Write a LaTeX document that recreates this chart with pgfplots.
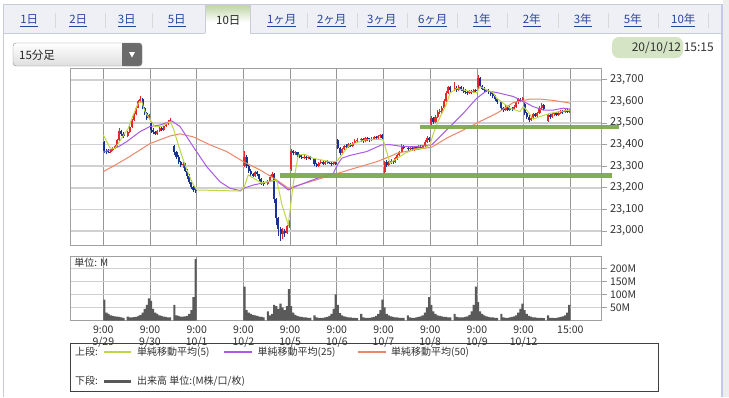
\documentclass[border=0pt]{standalone}
\usepackage{pgfplots}
\pgfplotsset{compat=1.18}
\usepackage{pgfplotstable}
\usepackage{fontspec}
\setmainfont{Noto Sans CJK JP}
\newcommand{\fs}[2]{\fontsize{#1bp}{#2bp}\selectfont}
\definecolor{tabbg}{RGB}{238,240,246}
\definecolor{tabline}{RGB}{200,204,214}
\definecolor{linkblue}{RGB}{40,70,160}
\definecolor{gridv}{RGB}{150,150,150}
\definecolor{gridh}{RGB}{208,208,208}
\definecolor{frame}{RGB}{160,160,160}
\definecolor{upc}{RGB}{230,40,40}
\definecolor{dnc}{RGB}{25,50,150}
\definecolor{ma5}{RGB}{190,215,70}
\definecolor{ma25}{RGB}{170,90,230}
\definecolor{ma50}{RGB}{235,135,105}
\definecolor{hl}{RGB}{125,170,75}
\definecolor{volc}{RGB}{90,90,90}
\definecolor{txt}{RGB}{50,50,50}

\pgfplotstableread{
d k o c h l
0 0 23410 23370 23415 23360
0 1 23370 23368 23380 23358
0 2 23368 23365 23378 23360
0 3 23365 23375 23380 23362
0 4 23375 23382 23390 23370
0 5 23382 23392 23398 23378
0 6 23392 23420 23425 23388
0 7 23420 23465 23478 23418
0 8 23465 23450 23470 23440
0 9 23450 23442 23458 23432
0 11 23442 23458 23462 23435
0 12 23458 23482 23488 23452
0 13 23482 23515 23520 23478
0 14 23515 23540 23548 23510
0 15 23540 23572 23578 23535
0 16 23572 23600 23608 23568
0 17 23600 23612 23623 23595
0 18 23612 23570 23615 23565
0 19 23570 23545 23575 23538
0 20 23545 23525 23550 23515
0 21 23525 23535 23540 23515
1 0 23500 23470 23507 23455
1 1 23470 23458 23475 23448
1 2 23458 23450 23465 23445
1 3 23450 23465 23470 23446
1 4 23465 23476 23482 23460
1 5 23476 23468 23480 23462
1 6 23468 23485 23490 23465
1 7 23485 23495 23500 23480
1 8 23495 23505 23512 23490
1 9 23505 23512 23522 23500
1 11 23395 23365 23400 23350
1 12 23365 23345 23370 23335
1 13 23345 23320 23350 23310
1 14 23320 23305 23325 23295
1 15 23305 23312 23318 23290
1 16 23312 23280 23315 23272
1 17 23280 23255 23285 23240
1 18 23255 23228 23262 23218
1 19 23228 23205 23235 23195
1 20 23205 23192 23210 23180
1 21 23192 23185 23198 23178
3 0 23300 23345 23370 23295
3 1 23345 23300 23350 23290
3 2 23300 23280 23305 23270
3 3 23280 23262 23285 23252
3 4 23262 23255 23270 23248
3 5 23255 23272 23278 23250
3 6 23272 23262 23276 23255
3 7 23262 23240 23266 23232
3 8 23240 23225 23245 23212
3 9 23225 23218 23230 23208
3 11 23218 23232 23238 23212
3 12 23232 23252 23258 23228
3 13 23252 23265 23275 23248
3 14 23265 23150 23268 23130
3 15 23150 23060 23155 23030
3 16 23060 23010 23065 22975
3 17 23010 22985 23020 22955
3 18 22985 23000 23015 22965
3 19 23000 22990 23010 22970
3 20 22990 23022 23030 22985
3 21 23022 23030 23050 23015
4 0 23285 23370 23378 23280
4 1 23370 23360 23375 23350
4 2 23360 23365 23372 23352
4 3 23365 23350 23368 23342
4 4 23350 23345 23355 23338
4 5 23345 23340 23350 23332
4 6 23340 23345 23350 23335
4 7 23345 23338 23348 23330
4 8 23338 23342 23348 23332
4 9 23342 23335 23346 23328
4 11 23335 23310 23338 23302
4 12 23310 23300 23315 23295
4 13 23300 23315 23320 23296
4 14 23315 23320 23328 23308
4 15 23320 23310 23324 23304
4 16 23310 23318 23325 23306
4 17 23318 23322 23329 23312
4 18 23322 23315 23326 23308
4 19 23315 23308 23320 23300
4 20 23308 23318 23324 23304
4 21 23318 23312 23322 23306
5 0 23420 23385 23425 23378
5 1 23385 23360 23390 23350
5 2 23360 23380 23385 23355
5 3 23380 23395 23400 23375
5 4 23395 23390 23402 23383
5 5 23390 23402 23408 23386
5 6 23402 23395 23406 23388
5 7 23395 23406 23412 23390
5 8 23406 23416 23425 23402
5 9 23416 23422 23430 23410
5 11 23422 23425 23432 23412
5 12 23425 23415 23430 23408
5 13 23415 23430 23436 23410
5 14 23430 23424 23435 23415
5 15 23424 23420 23430 23412
5 16 23420 23428 23434 23415
5 17 23428 23436 23440 23422
5 18 23436 23430 23440 23422
5 19 23430 23440 23445 23425
5 20 23440 23446 23450 23432
5 21 23446 23432 23448 23426
6 0 23275 23320 23326 23266
6 1 23320 23305 23328 23298
6 2 23305 23316 23322 23300
6 3 23316 23326 23332 23310
6 4 23326 23320 23330 23312
6 5 23320 23336 23342 23316
6 6 23336 23352 23358 23330
6 7 23352 23366 23372 23348
6 8 23366 23395 23405 23362
6 9 23395 23385 23400 23378
6 11 23385 23380 23392 23372
6 12 23380 23386 23394 23374
6 13 23386 23378 23392 23370
6 14 23378 23388 23395 23372
6 15 23388 23382 23394 23375
6 16 23382 23390 23396 23376
6 17 23390 23384 23398 23378
6 18 23384 23394 23400 23380
6 19 23394 23412 23420 23390
6 20 23412 23432 23440 23408
6 21 23432 23420 23436 23412
7 0 23495 23525 23532 23488
7 1 23525 23505 23530 23495
7 2 23505 23530 23538 23500
7 3 23530 23550 23560 23525
7 4 23550 23556 23565 23544
7 5 23556 23572 23578 23548
7 6 23572 23602 23610 23568
7 7 23602 23640 23648 23598
7 8 23640 23665 23672 23635
7 9 23665 23655 23670 23646
7 11 23655 23662 23692 23650
7 12 23662 23655 23670 23645
7 13 23655 23666 23674 23650
7 14 23666 23660 23672 23650
7 15 23660 23650 23665 23640
7 16 23650 23644 23656 23636
7 17 23644 23640 23650 23632
7 18 23640 23648 23655 23636
7 19 23648 23642 23652 23636
7 20 23642 23652 23658 23638
7 21 23652 23647 23656 23640
8 0 23665 23710 23723 23660
8 1 23710 23672 23712 23665
8 2 23672 23660 23676 23652
8 3 23660 23655 23666 23646
8 4 23655 23650 23660 23642
8 5 23650 23645 23656 23636
8 6 23645 23634 23650 23626
8 7 23634 23624 23640 23615
8 8 23624 23610 23628 23600
8 9 23610 23598 23615 23590
8 11 23598 23570 23602 23560
8 12 23570 23562 23576 23552
8 13 23562 23576 23582 23556
8 14 23576 23562 23580 23554
8 15 23562 23570 23578 23556
8 16 23570 23564 23576 23555
8 17 23564 23576 23584 23560
8 18 23576 23596 23602 23572
8 19 23596 23612 23616 23590
8 20 23612 23604 23616 23596
8 21 23604 23616 23620 23598
9 0 23590 23545 23595 23538
9 1 23545 23530 23550 23520
9 2 23530 23515 23535 23507
9 3 23515 23525 23532 23508
9 4 23525 23540 23548 23520
9 5 23540 23534 23546 23528
9 6 23534 23546 23552 23530
9 7 23546 23570 23578 23542
9 8 23570 23585 23593 23565
9 9 23585 23565 23588 23560
9 11 23510 23535 23540 23505
9 12 23535 23528 23540 23520
9 13 23528 23540 23546 23524
9 14 23540 23546 23552 23534
9 15 23546 23538 23550 23532
9 16 23538 23548 23555 23534
9 17 23548 23556 23562 23542
9 18 23556 23550 23562 23544
9 19 23550 23560 23568 23546
9 20 23560 23552 23566 23546
9 21 23552 23558 23564 23548
}\candles

\pgfplotstableread{
d k v
0 0 80
0 1 30
0 2 25
0 3 20
0 4 18
0 5 16
0 6 15
0 7 14
0 8 12
0 9 10
0 11 15
0 12 12
0 13 12
0 14 13
0 15 14
0 16 18
0 17 22
0 18 30
0 19 45
0 20 60
0 21 85
1 0 75
1 1 45
1 2 30
1 3 25
1 4 20
1 5 18
1 6 15
1 7 14
1 8 12
1 9 12
1 11 60
1 12 20
1 13 18
1 14 15
1 15 15
1 16 16
1 17 18
1 18 25
1 19 40
1 20 90
1 21 235
3 0 130
3 1 40
3 2 30
3 3 25
3 4 22
3 5 20
3 6 18
3 7 15
3 8 14
3 9 12
3 11 35
3 12 20
3 13 25
3 14 60
3 15 55
3 16 45
3 17 65
3 18 50
3 19 40
3 20 55
3 21 120
4 0 55
4 1 30
4 2 22
4 3 18
4 4 15
4 5 14
4 6 12
4 7 12
4 8 10
4 9 10
4 11 20
4 12 12
4 13 10
4 14 10
4 15 10
4 16 12
4 17 14
4 18 18
4 19 25
4 20 45
4 21 100
5 0 60
5 1 28
5 2 20
5 3 16
5 4 14
5 5 12
5 6 12
5 7 10
5 8 10
5 9 9
5 11 25
5 12 12
5 13 10
5 14 10
5 15 10
5 16 12
5 17 14
5 18 18
5 19 25
5 20 40
5 21 80
6 0 50
6 1 25
6 2 20
6 3 16
6 4 14
6 5 12
6 6 12
6 7 10
6 8 10
6 9 10
6 11 20
6 12 12
6 13 10
6 14 10
6 15 12
6 16 14
6 17 16
6 18 20
6 19 30
6 20 50
6 21 90
7 0 60
7 1 35
7 2 25
7 3 20
7 4 18
7 5 16
7 6 14
7 7 14
7 8 12
7 9 12
7 11 25
7 12 14
7 13 12
7 14 12
7 15 12
7 16 14
7 17 16
7 18 22
7 19 35
7 20 60
7 21 130
8 0 70
8 1 35
8 2 25
8 3 20
8 4 16
8 5 14
8 6 12
8 7 12
8 8 10
8 9 10
8 11 25
8 12 12
8 13 10
8 14 10
8 15 12
8 16 14
8 17 16
8 18 20
8 19 30
8 20 45
8 21 65
9 0 40
9 1 25
9 2 18
9 3 15
9 4 12
9 5 12
9 6 10
9 7 10
9 8 10
9 9 9
9 11 20
9 12 10
9 13 10
9 14 9
9 15 10
9 16 12
9 17 14
9 18 16
9 19 20
9 20 30
9 21 60
}\vol

\begin{document}
\begin{tikzpicture}
\begin{scope}[x=1bp,y=-1bp]
\path[use as bounding box] (0,0) rectangle (729,397);
\fill[white] (0,0) rectangle (729,397);
\fill[black!7] (723,0) rectangle (729,397);
% tab bar
\fill[tabbg] (3,4) rectangle (722,33);
\draw[tabline] (3,4) -- (722,4);
\draw[tabline] (3,33) -- (205,33);
\draw[tabline] (250,33) -- (722,33);
\draw[tabline] (3,4) -- (3,397);
\draw[tabline!80!blue!60, line width=1.5bp] (722,4) -- (722,397);
% selected tab
\fill[white] (205,5) rectangle (250,33.6);
\shade[top color=hl!50, bottom color=white] (205,5) rectangle (250,22);
\draw[tabline] (205,33) -- (205,5) -- (250,5) -- (250,33);
% separators
\foreach \sx in {55,105,152,306.7,356.7,406.7,457.3,506.7,558.3,608.3,658.3,708.3}
  \draw[black!15] (\sx,13) -- (\sx,28);
% tab labels
\foreach \tx/\tl in {29.3/1日,78.3/2日,126.7/3日,176.7/5日,281.7/1ヶ月,331.7/2ヶ月,381.7/3ヶ月,432.7/6ヶ月,481.7/1年,531.7/2年,582.7/3年,632.7/5年,683.3/10年}
  \node[font=\fs{11.5}{13}, text=linkblue, inner sep=0pt] at (\tx,20.5) {\underline{\tl}};
\node[font=\fs{11.5}{13}, text=black!85, inner sep=0pt] at (228.3,20.5) {10日};
% dropdown
\shade[top color=white, bottom color=black!13, rounded corners=3bp] (13,43) rectangle (142,66);
\fill[black!58, rounded corners=3bp] (122,43) rectangle (142,66);
\fill[black!58] (122,43) rectangle (127,66);
\draw[black!45, rounded corners=3bp] (13,43) rectangle (142,66);
\fill[white] (129,52) -- (135,52) -- (132,57.5) -- cycle;
\node[anchor=west, font=\fs{11.5}{13}, text=black!85, inner sep=0pt] at (19,55) {15分足};
% date
\fill[hl!32, rounded corners=7bp] (612,37) rectangle (683,58);
\node[anchor=east, font=\fs{12}{14}, text=txt, inner sep=0pt] at (714,47.5) {20/10/12 15:15};
% legend box
\draw[black!75, line width=0.9bp] (70,343) rectangle (658,391);
\node[anchor=west, font=\fs{10}{12}, text=txt, inner sep=0pt] at (75,352) {上段:};
\draw[ma5, line width=1.3bp] (104,352) -- (131,352);
\node[anchor=west, font=\fs{10}{12}, text=txt, inner sep=0pt] at (137,352) {単純移動平均(5)};
\draw[ma25, line width=1.3bp] (224,352) -- (252,352);
\node[anchor=west, font=\fs{10}{12}, text=txt, inner sep=0pt] at (257.5,352) {単純移動平均(25)};
\draw[ma50, line width=1.3bp] (358,352) -- (386,352);
\node[anchor=west, font=\fs{10}{12}, text=txt, inner sep=0pt] at (391,352) {単純移動平均(50)};
\node[anchor=west, font=\fs{10}{12}, text=txt, inner sep=0pt] at (75,381) {下段:};
\draw[black!65, line width=3bp] (104,381) -- (131,381);
\node[anchor=west, font=\fs{10}{12}, text=txt, inner sep=0pt] at (137,381) {出来高 単位:(M株/口/枚)};
\end{scope}

% ===== price panel =====
\begin{axis}[
  at={(70bp,-68bp)}, anchor=north west, scale only axis,
  width=531.5bp, height=177bp,
  xmin=-0.713, xmax=10.668, ymin=22935, ymax=23755,
  clip=false,
  axis line style={draw=frame, line width=1bp},
  xtick={0,...,10}, xticklabels={}, xtick style={draw=none},
  ytick={23000,23100,23200,23300,23400,23500,23600,23700},
  ytick pos=right, yticklabel pos=right, scaled y ticks=false,
  /pgf/number format/assume math mode=true,
  /pgf/number format/1000 sep={,},
  yticklabel style={font=\fs{11}{13}, text=txt},
  ytick style={draw=frame, line width=0.8bp},
  tick align=outside, major tick length=5bp,
  grid=major,
  x grid style={draw=gridv, line width=0.8bp},
  y grid style={draw=gridh, line width=1.6bp},
]
% candles up
\addplot[draw=none, mark=none, forget plot,
  restrict expr to domain={\thisrow{c}-\thisrow{o}}{0:5000},
  error bars/.cd, y dir=plus, y explicit, error mark=none,
  error bar style={draw=upc, line width=0.8bp}]
  table[x expr=\thisrow{d}+(\thisrow{k}+0.5)/22, y=l, y error plus expr=\thisrow{h}-\thisrow{l}] {\candles};
\addplot[draw=none, mark=none, forget plot,
  restrict expr to domain={\thisrow{c}-\thisrow{o}}{0:5000},
  error bars/.cd, y dir=plus, y explicit, error mark=none,
  error bar style={draw=upc, line width=2.1bp}]
  table[x expr=\thisrow{d}+(\thisrow{k}+0.5)/22, y=o, y error plus expr=\thisrow{c}-\thisrow{o}] {\candles};
% candles down
\addplot[draw=none, mark=none, forget plot,
  restrict expr to domain={\thisrow{o}-\thisrow{c}}{0.5:5000},
  error bars/.cd, y dir=plus, y explicit, error mark=none,
  error bar style={draw=dnc, line width=0.8bp}]
  table[x expr=\thisrow{d}+(\thisrow{k}+0.5)/22, y=l, y error plus expr=\thisrow{h}-\thisrow{l}] {\candles};
\addplot[draw=none, mark=none, forget plot,
  restrict expr to domain={\thisrow{o}-\thisrow{c}}{0.5:5000},
  error bars/.cd, y dir=plus, y explicit, error mark=none,
  error bar style={draw=dnc, line width=2.1bp}]
  table[x expr=\thisrow{d}+(\thisrow{k}+0.5)/22, y=c, y error plus expr=\thisrow{o}-\thisrow{c}] {\candles};
% MA50
\addplot[ma50, line width=1bp, mark=none] coordinates {
(0.000,23275) (0.251,23305) (0.529,23340) (1.000,23405) (1.428,23440) (1.642,23450)
(1.927,23436) (2.285,23399) (2.642,23368) (2.998,23321) (3.355,23283) (3.713,23236)
(3.961,23198) (4.069,23205) (4.426,23228) (4.784,23252) (5.139,23275) (5.495,23298)
(5.854,23321) (6.139,23345) (6.283,23360) (6.638,23375) (7.032,23388) (7.353,23430)
(7.709,23468) (8.066,23507) (8.424,23545) (8.779,23595) (9.137,23611) (9.351,23611)
(9.636,23605) (9.923,23595) (9.993,23592)};
% MA25
\addplot[ma25, line width=1bp, mark=none] coordinates {
(0.000,23365) (0.143,23375) (0.321,23390) (0.501,23414) (0.786,23460) (1.000,23484)
(1.214,23491) (1.465,23510) (1.642,23484) (1.927,23390) (2.214,23298) (2.499,23228)
(2.713,23198) (2.927,23187) (3.034,23200) (3.212,23213) (3.392,23221) (3.677,23236)
(3.848,23210) (3.961,23190) (4.105,23205) (4.426,23232) (4.784,23260) (4.925,23267)
(5.011,23306) (5.105,23337) (5.283,23350) (5.640,23368) (5.961,23399) (6.139,23400)
(6.353,23393) (6.638,23390) (7.032,23399) (7.353,23468) (7.709,23545) (7.996,23615)
(8.210,23650) (8.495,23638) (8.779,23623) (8.994,23600) (9.208,23576) (9.422,23560)
(9.636,23560) (9.850,23569) (9.993,23565)};
% MA5
\addplot[ma5, line width=1bp, mark=none] coordinates {
(0.000,23445) (0.143,23385) (0.251,23382) (0.394,23430) (0.535,23476) (0.642,23538)
(0.749,23592) (0.822,23600) (0.893,23553) (1.000,23515) (1.107,23484) (1.257,23485)
(1.428,23507) (1.499,23476) (1.606,23399) (1.749,23306) (1.893,23228) (2.000,23190)
(2.949,23185) (3.019,23205) (3.105,23260) (3.248,23240) (3.392,23222) (3.606,23232)
(3.713,23236) (3.827,23120) (3.961,23028) (4.069,23222) (4.176,23352) (4.319,23355)
(4.490,23337) (4.854,23321) (4.998,23321) (5.212,23383) (5.283,23399) (5.604,23422)
(5.925,23425) (5.996,23420) (6.139,23314) (6.246,23330) (6.460,23360) (6.674,23380)
(6.889,23385) (6.996,23400) (7.066,23450) (7.173,23510) (7.353,23590) (7.424,23640)
(7.567,23660) (7.996,23640) (8.066,23669) (8.351,23640) (8.424,23615) (8.565,23592)
(8.709,23569) (8.923,23553) (8.994,23576) (9.066,23560) (9.208,23518) (9.351,23530)
(9.565,23545) (9.779,23553) (9.993,23560)};
% hand-drawn support lines
\addplot[hl, line width=4.5bp, opacity=0.95, mark=none] coordinates {(3.784,23257) (10.893,23257)};
\addplot[hl, line width=4.5bp, opacity=0.95, mark=none] coordinates {(6.782,23481) (11.05,23481)};
\end{axis}

% ===== volume panel =====
\begin{axis}[
  at={(70bp,-256bp)}, anchor=north west, scale only axis,
  width=531.5bp, height=64.5bp,
  xmin=-0.713, xmax=10.668, ymin=0, ymax=247,
  axis line style={draw=frame, line width=1bp},
  xtick={0,...,10},
  xticklabels={{9:00\\9/29},{9:00\\9/30},{9:00\\10/1},{9:00\\10/2},{9:00\\10/5},{9:00\\10/6},{9:00\\10/7},{9:00\\10/8},{9:00\\10/9},{9:00\\10/12},{15:00}},
  xticklabel style={align=center, font=\fs{10.5}{11.5}, text=txt, inner sep=0.5bp},
  xtick style={draw=none},
  ytick={50,100,150,200},
  yticklabel={\pgfmathprintnumber[assume math mode=true]{\tick}M},
  ytick pos=right, yticklabel pos=right,
  yticklabel style={font=\fs{10.5}{12}, text=txt},
  ytick style={draw=frame, line width=0.8bp},
  tick align=outside, major tick length=5bp,
  grid=major,
  x grid style={draw=gridv, line width=0.8bp},
  y grid style={draw=gridh, line width=1.3bp},
]
\addplot[ybar, bar width=0.0455, fill=volc, draw=none, mark=none]
  table[x expr=\thisrow{d}+(\thisrow{k}+0.5)/22, y=v] {\vol};
\node[anchor=north west, font=\fs{10}{12}, text=txt, inner sep=1bp] at (rel axis cs:0.006,0.98) {単位: M};
\end{axis}
\end{tikzpicture}
\end{document}
